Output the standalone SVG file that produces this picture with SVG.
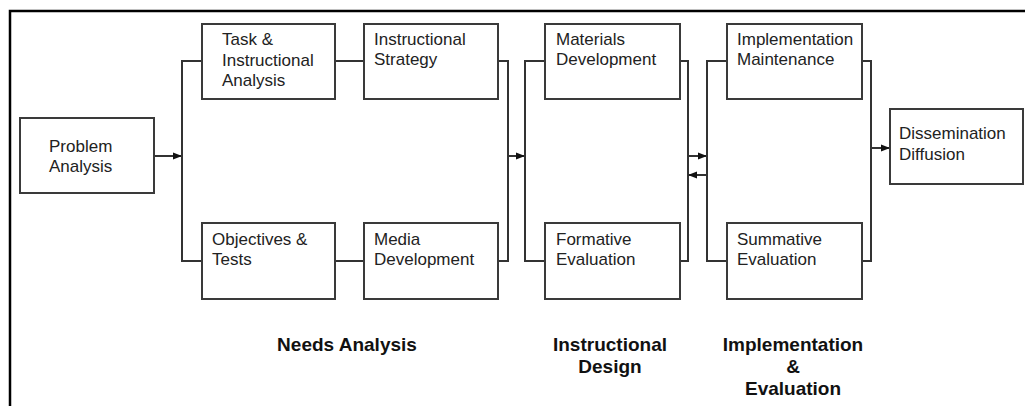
<svg xmlns="http://www.w3.org/2000/svg" width="1025" height="406" viewBox="0 0 1025 406">
<style>
.box{fill:#fff;stroke:#3a3a3a;stroke-width:2}
.t{font-family:"Liberation Sans",Arial,sans-serif;font-size:17px;fill:#222}
.b{font-family:"Liberation Sans",Arial,sans-serif;font-size:19px;font-weight:bold;fill:#111;text-anchor:middle}
.c{fill:none;stroke:#333;stroke-width:2}
</style>
<defs>
<marker id="arr" markerUnits="userSpaceOnUse" markerWidth="10" markerHeight="8" refX="9" refY="4" orient="auto">
<path d="M0,0.5 L9,4 L0,7.5 Z" fill="#111"/>
</marker>
</defs>
<rect width="1025" height="406" fill="#fff"/>
<path d="M10,406 V11 H1025" fill="none" stroke="#000" stroke-width="2.5"/>
<g id="connectors">
<path class="c" d="M154,156 H182" marker-end="url(#arr)"/>
<path class="c" d="M202,61 H182 V261 H202"/>
<path class="c" d="M335,61 H364"/>
<path class="c" d="M335,261 H364"/>
<path class="c" d="M498,61 H508 V261 H498"/>
<path class="c" d="M508,156 H525" marker-end="url(#arr)"/>
<path class="c" d="M545,61 H525 V261 H545"/>
<path class="c" d="M680,61 H688 V261 H680"/>
<path class="c" d="M688,156 H707" marker-end="url(#arr)"/>
<path class="c" d="M707,175 H688" marker-end="url(#arr)"/>
<path class="c" d="M727,61 H707 V261 H727"/>
<path class="c" d="M862,61 H871 V261 H862"/>
<path class="c" d="M871,148 H890" marker-end="url(#arr)"/>
</g>
<g id="problem-analysis">
<rect class="box" x="20" y="118" width="134" height="75"/>
<text class="t" x="49" y="152">Problem</text>
<text class="t" x="49" y="172">Analysis</text>
</g>
<g id="task-analysis">
<rect class="box" x="202" y="24" width="133" height="75"/>
<text class="t" x="222" y="45">Task &amp;</text>
<text class="t" x="222" y="66">Instructional</text>
<text class="t" x="222" y="86">Analysis</text>
</g>
<g id="instructional-strategy">
<rect class="box" x="364" y="24" width="134" height="75"/>
<text class="t" x="374" y="45">Instructional</text>
<text class="t" x="374" y="65">Strategy</text>
</g>
<g id="objectives-tests">
<rect class="box" x="202" y="223" width="133" height="76"/>
<text class="t" x="212" y="245">Objectives &amp;</text>
<text class="t" x="212" y="265">Tests</text>
</g>
<g id="media-development">
<rect class="box" x="364" y="223" width="134" height="76"/>
<text class="t" x="374" y="245">Media</text>
<text class="t" x="374" y="265">Development</text>
</g>
<g id="materials-development">
<rect class="box" x="545" y="24" width="135" height="75"/>
<text class="t" x="556" y="45">Materials</text>
<text class="t" x="556" y="65">Development</text>
</g>
<g id="formative-evaluation">
<rect class="box" x="545" y="223" width="135" height="76"/>
<text class="t" x="556" y="245">Formative</text>
<text class="t" x="556" y="265">Evaluation</text>
</g>
<g id="implementation-maintenance">
<rect class="box" x="727" y="24" width="135" height="75"/>
<text class="t" x="737" y="45">Implementation</text>
<text class="t" x="737" y="65">Maintenance</text>
</g>
<g id="summative-evaluation">
<rect class="box" x="727" y="223" width="135" height="76"/>
<text class="t" x="737" y="245">Summative</text>
<text class="t" x="737" y="265">Evaluation</text>
</g>
<g id="dissemination-diffusion">
<rect class="box" x="890" y="109" width="133" height="75"/>
<text class="t" x="899" y="139">Dissemination</text>
<text class="t" x="899" y="160">Diffusion</text>
</g>
<g id="labels">
<text class="b" x="347" y="351">Needs Analysis</text>
<text class="b" x="610" y="351">Instructional</text>
<text class="b" x="610" y="373">Design</text>
<text class="b" x="793" y="351">Implementation</text>
<text class="b" x="793" y="373">&amp;</text>
<text class="b" x="793" y="395">Evaluation</text>
</g>
</svg>
